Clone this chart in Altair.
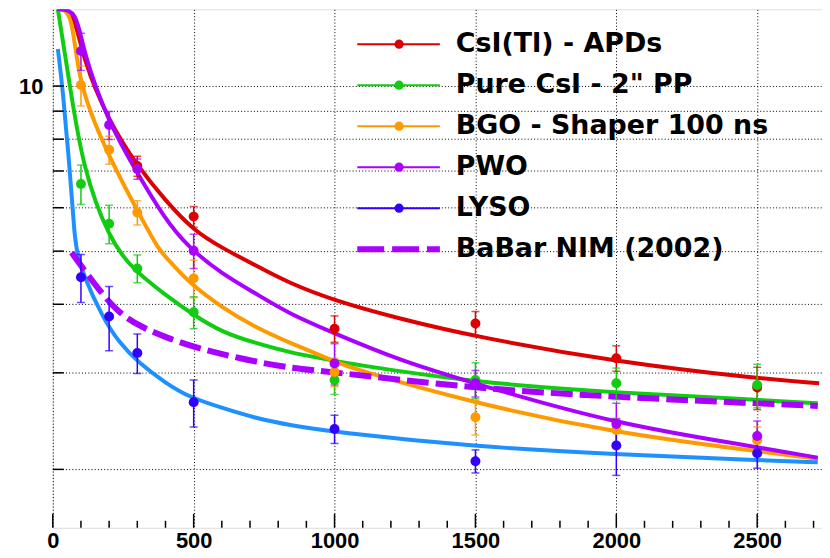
import altair as alt
import pandas as pd

# ---------------- data ----------------
series = ["CsI(Tl) - APDs", "Pure CsI - 2\" PP", "BGO - Shaper 100 ns", "PWO", "LYSO", "BaBar NIM (2002)"]
marker_colors = ["#dd0000", "#11cc11", "#ff9900", "#aa00ff", "#3300ff"]
fit_colors = ["#dd0000", "#11cc11", "#ff9900", "#aa00ff", "#1e90ff"]
babar_color = "#aa00ff"

x_pts = [100, 200, 300, 500, 1000, 1500, 2000, 2500]

csi_tl_x = [300, 500, 1000, 1500, 2000, 2500]
csi_tl_y = [7.15, 5.78, 3.61, 3.69, 3.19, 2.82]
csi_tl_err = [0.30, 0.25, 0.20, 0.19, 0.17, 0.25]

pure_csi_y = [6.63, 5.61, 4.65, 3.87, 2.91, 2.91, 2.87, 2.85]
pure_csi_err = [0.55, 0.45, 0.27, 0.26, 0.17, 0.22, 0.19, 0.26]

bgo_y = [10.04, 7.65, 5.88, 4.46, 3.01, 2.49, 2.36, 2.26]
bgo_err = [0.84, 0.45, 0.30, 0.35, 0.18, 0.18, 0.12, 0.13]

pwo_y = [11.58, 8.49, 7.06, 5.01, 3.12, 2.87, 2.42, 2.30]
pwo_err = [0.90, 0.50, 0.30, 0.36, 0.27, 0.16, 0.22, 0.15]

lyso_y = [4.48, 3.80, 3.26, 2.65, 2.37, 2.07, 2.21, 2.14]
lyso_err = [0.45, 0.51, 0.27, 0.26, 0.14, 0.10, 0.26, 0.13]

# fitted curves
red_fit_x = [15, 75, 106, 200, 300, 400, 500, 600, 720, 835, 1000, 1225, 1500, 2000, 2500, 2720]
red_fit_y = [20, 14.2, 11.2, 8.6, 7.15, 6.18, 5.45, 5.07, 4.71, 4.38, 4.06, 3.77, 3.49, 3.14, 2.93, 2.87]

green_fit_x = [18, 60, 106, 201, 282, 402, 501, 599, 719, 836, 994, 1047, 1495, 1996, 2493, 2715]
green_fit_y = [13.8, 10.08, 7.09, 5.25, 4.64, 4.15, 3.82, 3.56, 3.40, 3.27, 3.16, 3.12, 2.88, 2.76, 2.68, 2.64]

orange_fit_x = [15, 70, 88, 201, 300, 377, 413, 483, 599, 719, 836, 994, 1047, 1495, 1996, 2493, 2715]
orange_fit_y = [20, 14.0, 10.08, 7.40, 5.93, 5.01, 4.81, 4.38, 3.95, 3.63, 3.41, 3.16, 3.07, 2.64, 2.33, 2.16, 2.09]

purple_fit_x = [15, 85, 106, 200, 296, 395, 483, 599, 719, 836, 994, 1231, 1495, 1996, 2493, 2715]
purple_fit_y = [20, 14.0, 11.58, 8.53, 7.00, 5.75, 5.07, 4.55, 4.19, 3.85, 3.55, 3.16, 2.87, 2.42, 2.20, 2.10]

lyso_fit_x = [18, 35, 60, 78, 88, 106, 176, 236, 307, 402, 483, 599, 719, 836, 994, 1495, 1996, 2493, 2715]
lyso_fit_y = [11.68, 9.92, 7.09, 5.23, 4.95, 4.55, 3.79, 3.40, 3.12, 2.87, 2.71, 2.59, 2.48, 2.41, 2.34, 2.20, 2.13, 2.08, 2.06]

babar_x = [67, 130, 226, 317, 402, 501, 659, 836, 994, 1495, 1996, 2493, 2715]
babar_y = [4.97, 4.48, 3.87, 3.63, 3.48, 3.34, 3.19, 3.06, 3.01, 2.81, 2.71, 2.64, 2.61]

x_major = [0, 500, 1000, 1500, 2000, 2500]
x_minor = [v for v in range(100, 2800, 100) if v % 500 != 0]
y_ticks = [2, 3, 4, 5, 6, 7, 8, 9, 10]

# ---------------- tables ----------------
pt_rows = []
pt_sets = [
    (csi_tl_x, csi_tl_y, csi_tl_err),
    (x_pts, pure_csi_y, pure_csi_err),
    (x_pts, bgo_y, bgo_err),
    (x_pts, pwo_y, pwo_err),
    (x_pts, lyso_y, lyso_err),
]
for i, (xs, ys, es) in enumerate(pt_sets):
    for xv, yv, ev in zip(xs, ys, es):
        pt_rows.append({"series": series[i], "col": marker_colors[i], "x": xv, "v": yv, "err": ev})
pts = pd.DataFrame(pt_rows)

fit_rows = []
fit_sets = [(red_fit_x, red_fit_y), (green_fit_x, green_fit_y), (orange_fit_x, orange_fit_y),
            (purple_fit_x, purple_fit_y), (lyso_fit_x, lyso_fit_y)]
for i, (xs, ys) in enumerate(fit_sets):
    for xv, yv in zip(xs, ys):
        fit_rows.append({"series": series[i], "col": fit_colors[i], "x": xv, "v": yv})
fits = pd.DataFrame(fit_rows)
babar = pd.DataFrame({"x": babar_x, "v": babar_y})

legend_colors = marker_colors + [babar_color]

# ---------------- chart ----------------
W, H = 773, 521
AX_FONT = "Liberation Sans"
LEG_FONT = "DejaVu Sans"

xscale = alt.Scale(domain=[0, 2730], nice=False, zero=False)
yscale = alt.Scale(type="log", domain=[1.565, 13.8], nice=False, clamp=True)

x_axis = alt.Axis(values=x_major, format="d", grid=True, gridColor="black", gridDash=[1, 2.2], gridWidth=1,
                  gridOpacity=1, ticks=False, domain=False, labelFont=AX_FONT, labelFontSize=22,
                  labelFontWeight="bold", labelColor="black", labelPadding=3, title=None, labelFlush=False)
y_axis = alt.Axis(values=y_ticks, labelExpr="datum.value == 10 ? '10' : ''", grid=True,
                  gridColor="black", gridDash=[1, 2.2], gridWidth=1, gridOpacity=1, ticks=False,
                  domain=False, labelFont=AX_FONT, labelFontSize=22, labelFontWeight="bold",
                  labelColor="black", labelPadding=10, title=None, minExtent=40, maxExtent=40)


def X(f):
    return alt.X(f, type="quantitative", scale=xscale, axis=x_axis)


def Y(f):
    return alt.Y(f, type="quantitative", scale=yscale, axis=y_axis)


COL = alt.Color("col:N", scale=None)

curves = alt.Chart(fits).mark_line(strokeWidth=4, interpolate="basis", clip=True).encode(
    x=X("x"), y=Y("v"), color=COL, detail="series:N")

dashed = alt.Chart(babar).mark_line(strokeWidth=6, strokeDash=[22, 7], interpolate="basis",
                                    clip=True, color=babar_color).encode(x=X("x"), y=Y("v"))

errbase = alt.Chart(pts).transform_calculate(lo="datum.v - datum.err", hi="datum.v + datum.err")
err_rule = errbase.mark_rule(strokeWidth=1.5, clip=True).encode(
    x=X("x"), y=Y("lo"), y2="hi:Q", color=COL)
cap_lo = errbase.mark_tick(orient="horizontal", size=8, thickness=1.5, clip=True).encode(
    x=X("x"), y=Y("lo"), color=COL)
cap_hi = errbase.mark_tick(orient="horizontal", size=8, thickness=1.5, clip=True).encode(
    x=X("x"), y=Y("hi"), color=COL)

points = alt.Chart(pts).mark_circle(size=100, opacity=1, clip=True).encode(
    x=X("x"), y=Y("v"), color=COL)

# inward axis ticks (ROOT style)
xmaj = alt.Chart(pd.DataFrame({"x": x_major})).mark_rule(color="black", strokeWidth=1.5).encode(
    x=X("x"), y=alt.value(H), y2=alt.value(H - 14))
xmin = alt.Chart(pd.DataFrame({"x": x_minor})).mark_rule(color="black", strokeWidth=1.5).encode(
    x=X("x"), y=alt.value(H), y2=alt.value(H - 7))
ytk = alt.Chart(pd.DataFrame({"v": y_ticks})).mark_rule(color="black", strokeWidth=1.5).encode(
    y=Y("v"), x=alt.value(0), x2=alt.value(11))

# legend (manual, ROOT TLegend look)
legend_layers = []
for i, (lab, c) in enumerate(zip(series, legend_colors)):
    py = 35 + 41.2 * i
    one = alt.Chart(pd.DataFrame({"label": [lab]}))
    if i < 5:
        legend_layers.append(one.mark_rule(strokeWidth=2, color=c).encode(
            x=alt.value(306), x2=alt.value(389), y=alt.value(py)))
        legend_layers.append(one.mark_circle(size=85, opacity=1, color=c).encode(
            x=alt.value(348), y=alt.value(py)))
    else:
        legend_layers.append(one.mark_rule(strokeWidth=6, strokeDash=[27, 8], color=c).encode(
            x=alt.value(306), x2=alt.value(389), y=alt.value(py)))
    legend_layers.append(one.mark_text(align="left", baseline="middle", font=LEG_FONT, fontSize=27,
                                       fontWeight="bold", color="black").encode(
        x=alt.value(405), y=alt.value(py), text="label:N"))

chart = alt.layer(
    curves, dashed, err_rule, cap_lo, cap_hi, points, xmaj, xmin, ytk, *legend_layers
).properties(
    width=W, height=H, padding={"left": 5, "top": 0, "right": 0, "bottom": 0}
).configure_view(stroke="black", strokeWidth=1.5).configure(background="white")

chart.save("out.html", embed_options={"renderer": "svg", "actions": False})
